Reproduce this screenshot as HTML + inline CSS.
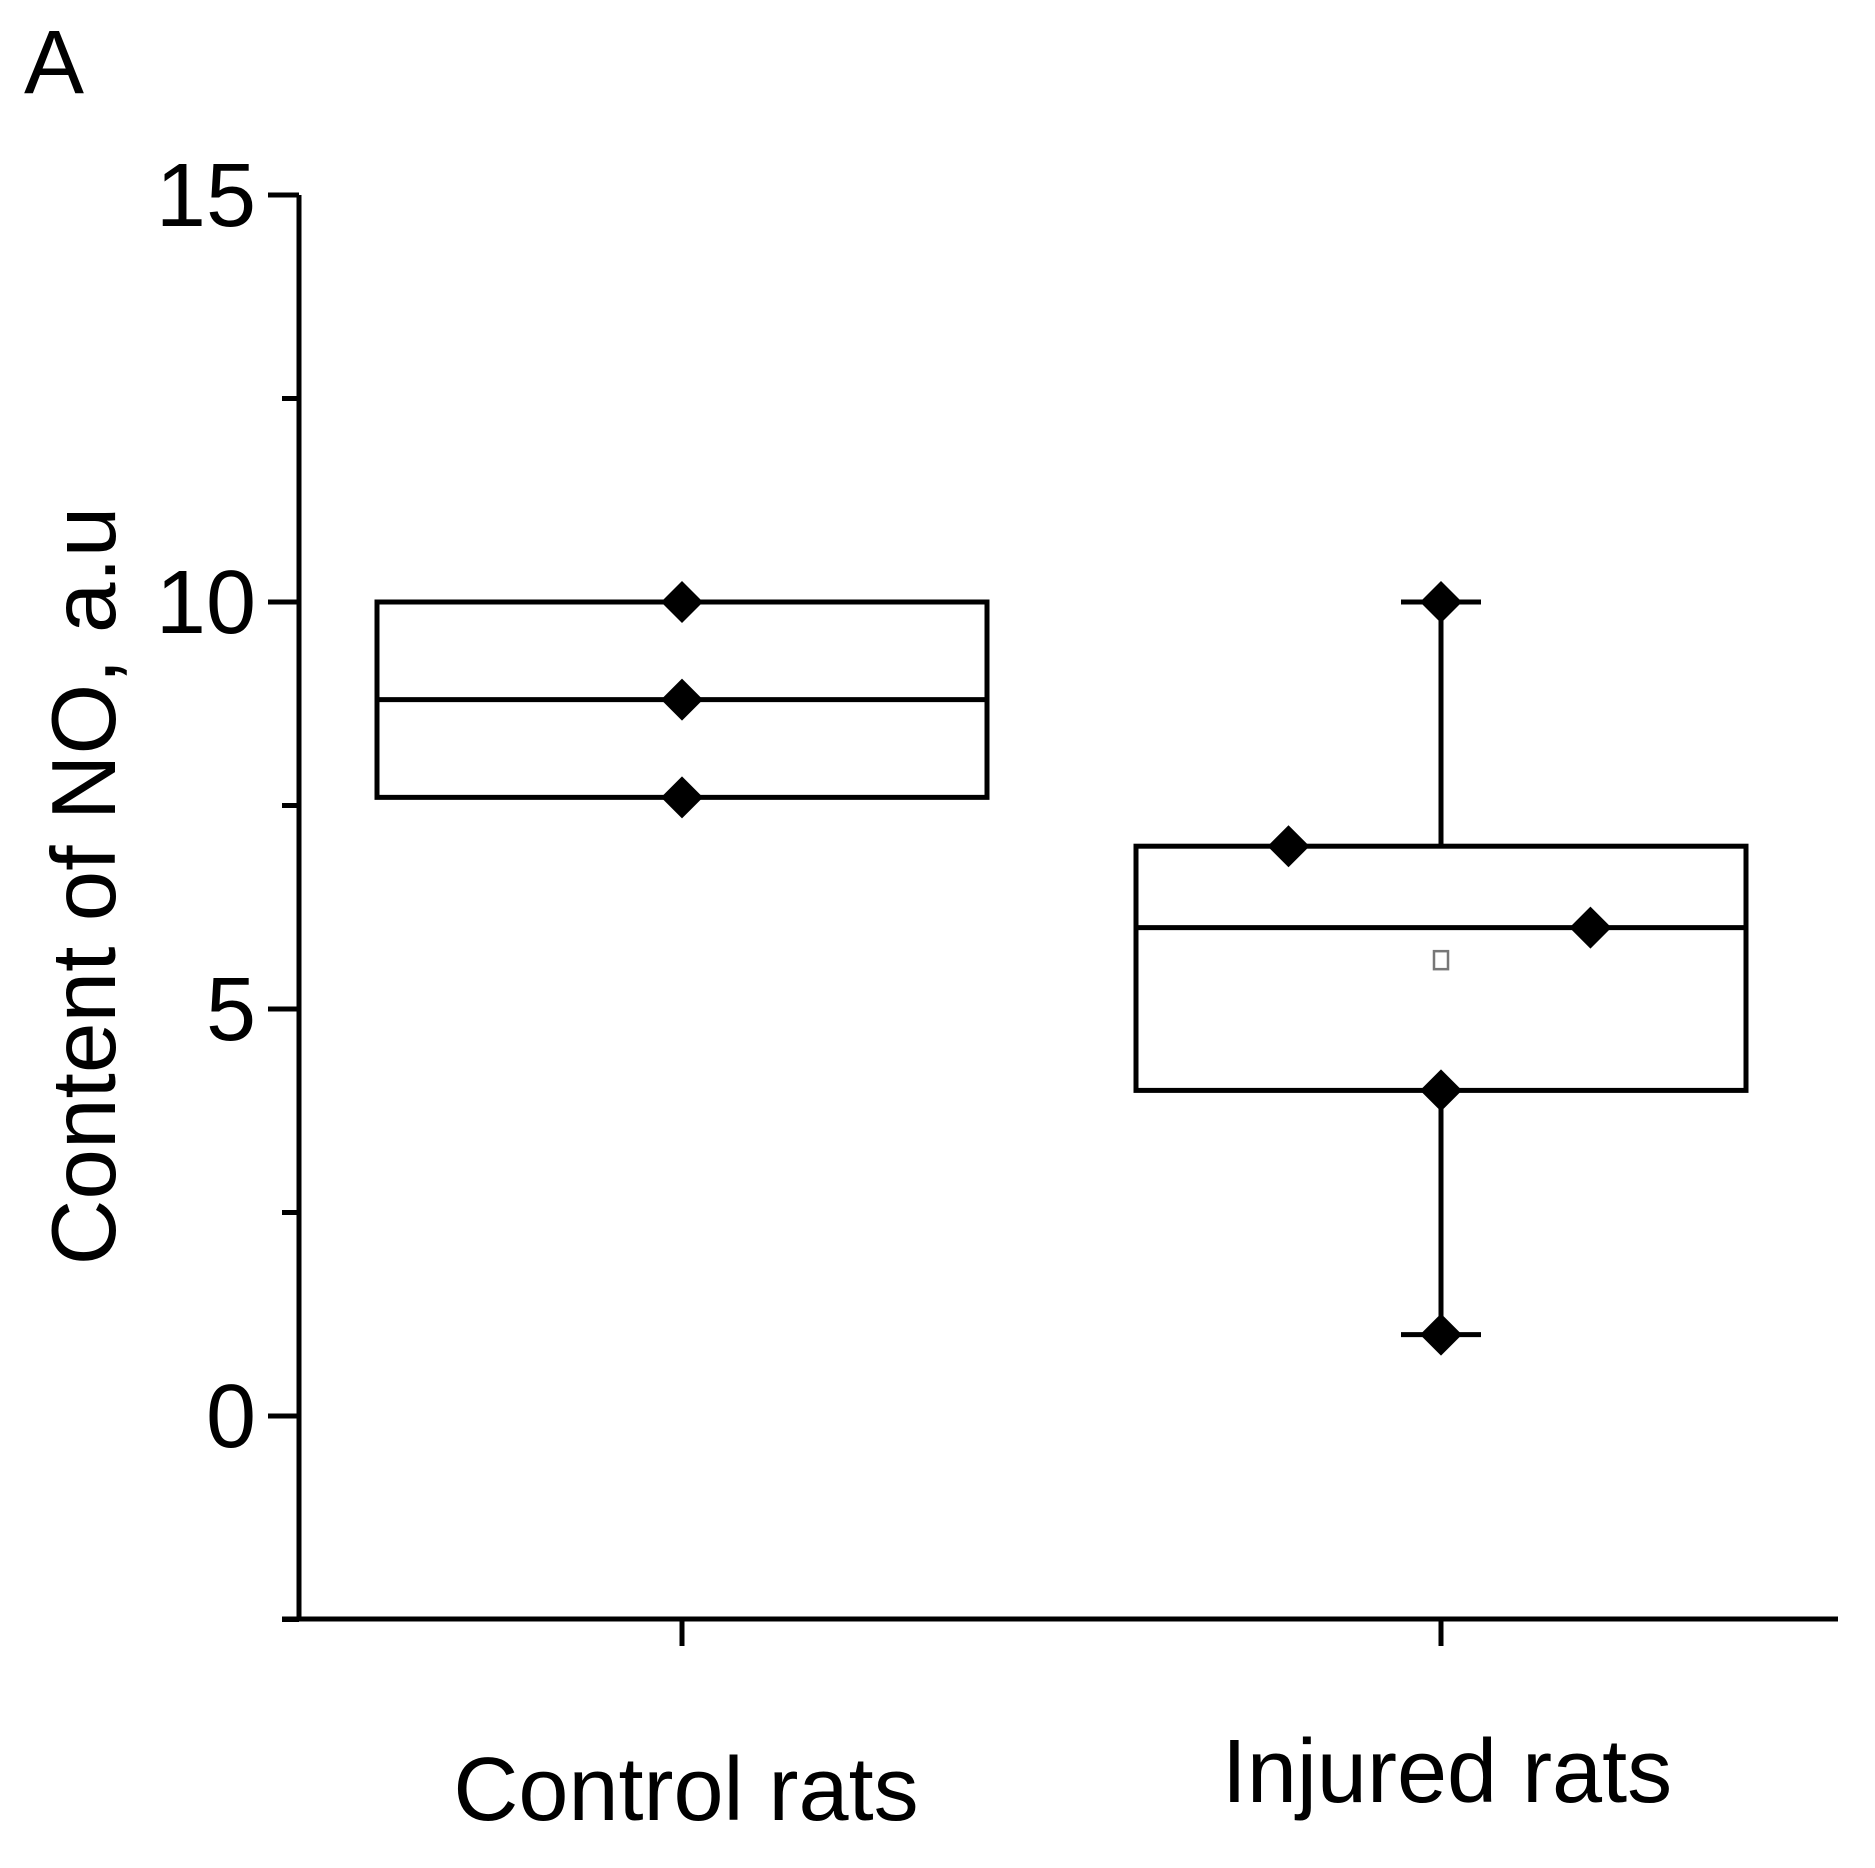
<!DOCTYPE html>
<html><head><meta charset="utf-8"><style>
html,body{margin:0;padding:0;background:#fff;}
svg{display:block;font-family:"Liberation Sans",sans-serif;}
</style></head><body>
<svg id="chart" width="1875" height="1868" viewBox="0 0 1875 1868">
<text x="24" y="93" font-size="90">A</text>
<g id="axes"></g>
<g id="boxes"></g>
<text transform="translate(115,886) rotate(-90)" text-anchor="middle" font-size="91">Content of NO, a.u</text>
</svg>
<script>
const categories = ["Control rats", "Injured rats"];
const boxLow = [7.6, 4];
const boxHigh = [10, 7];
const medians = [8.8, 6];
const whiskerLow = [null, 1];
const whiskerHigh = [null, 10];
const means = [null, 5.6];
const pointValues = [[10, 8.8, 7.6], [10, 7, 6, 4, 1]];
const pointOffsets = [[0, 0, 0], [0, -0.5, 0.49, 0, 0]];
const yTicks = [0, 5, 10, 15];
const yMinor = [-2.5, 2.5, 7.5, 12.5];

const NS = "http://www.w3.org/2000/svg";
const y0 = 1416, yPer = 81.4, xAxisX = 299, xAxisY = 1619;
const catX = [682, 1441], halfW = 305;
function Y(v){ return y0 - v * yPer; }
function X(i, off){ return catX[i] + (off || 0) * halfW; }
function mk(tag, attrs, parent){
  const e = document.createElementNS(NS, tag);
  for (const k in attrs) e.setAttribute(k, attrs[k]);
  parent.appendChild(e); return e;
}
const SW = 5;
const axes = document.getElementById('axes');
const boxes = document.getElementById('boxes');
let el;
el = mk('line', {x1: xAxisX, y1: Y(15), x2: xAxisX, y2: xAxisY, stroke: '#000', 'stroke-width': SW}, axes);


el = mk('line', {x1: 282, y1: xAxisY, x2: 1838, y2: xAxisY, stroke: '#000', 'stroke-width': SW}, axes);


yTicks.forEach(function(v){
  el = mk('line', {x1: xAxisX - 31, y1: Y(v), x2: xAxisX, y2: Y(v), stroke: '#000', 'stroke-width': SW}, axes);
  
  
  el = mk('text', {x: 256, y: Y(v) + 31, 'text-anchor': 'end', 'font-size': 90}, axes);
  el.textContent = v;
  
  
});
yMinor.forEach(function(v){
  el = mk('line', {x1: xAxisX - 17, y1: Y(v), x2: xAxisX, y2: Y(v), stroke: '#000', 'stroke-width': SW}, axes);
  
  
});
const labelY = [1820, 1802];
const labelDx = [4, 6];
categories.forEach(function(c, i){
  el = mk('line', {x1: X(i), y1: xAxisY, x2: X(i), y2: xAxisY + 27, stroke: '#000', 'stroke-width': SW}, axes);
  
  
  el = mk('text', {x: X(i) + labelDx[i], y: labelY[i], 'text-anchor': 'middle', 'font-size': 90}, axes);
  el.textContent = c;
  
  
});
categories.forEach(function(c, i){
  const g = mk('g', {}, boxes);
  
  
  if (whiskerLow[i] !== null) {
    el = mk('line', {x1: X(i), y1: Y(whiskerHigh[i]), x2: X(i), y2: Y(whiskerLow[i]), stroke: '#000', 'stroke-width': SW}, g);
    
    
    [whiskerHigh[i], whiskerLow[i]].forEach(function(v){
      el = mk('line', {x1: X(i) - 40, y1: Y(v), x2: X(i) + 40, y2: Y(v), stroke: '#000', 'stroke-width': SW}, g);
      
      
    });
  }
  el = mk('rect', {x: X(i) - halfW, y: Y(boxHigh[i]), width: 2 * halfW, height: Y(boxLow[i]) - Y(boxHigh[i]), fill: '#fff', stroke: '#000', 'stroke-width': SW}, g);
  
  
  el = mk('line', {x1: X(i) - halfW, y1: Y(medians[i]), x2: X(i) + halfW, y2: Y(medians[i]), stroke: '#000', 'stroke-width': SW}, g);
  
  
  if (means[i] !== null) {
    el = mk('rect', {x: X(i) - 7, y: Y(means[i]) - 9, width: 14, height: 18, fill: '#fff', stroke: '#777', 'stroke-width': 2.5}, g);
    
    
  }
  pointValues[i].forEach(function(v, j){
    const cx = X(i, pointOffsets[i][j]), cy = Y(v), r = 21;
    el = mk('polygon', {points: cx + ',' + (cy - r) + ' ' + (cx + r) + ',' + cy + ' ' + cx + ',' + (cy + r) + ' ' + (cx - r) + ',' + cy, fill: '#000'}, g);
    
    
  });
});
</script>
</body></html>
